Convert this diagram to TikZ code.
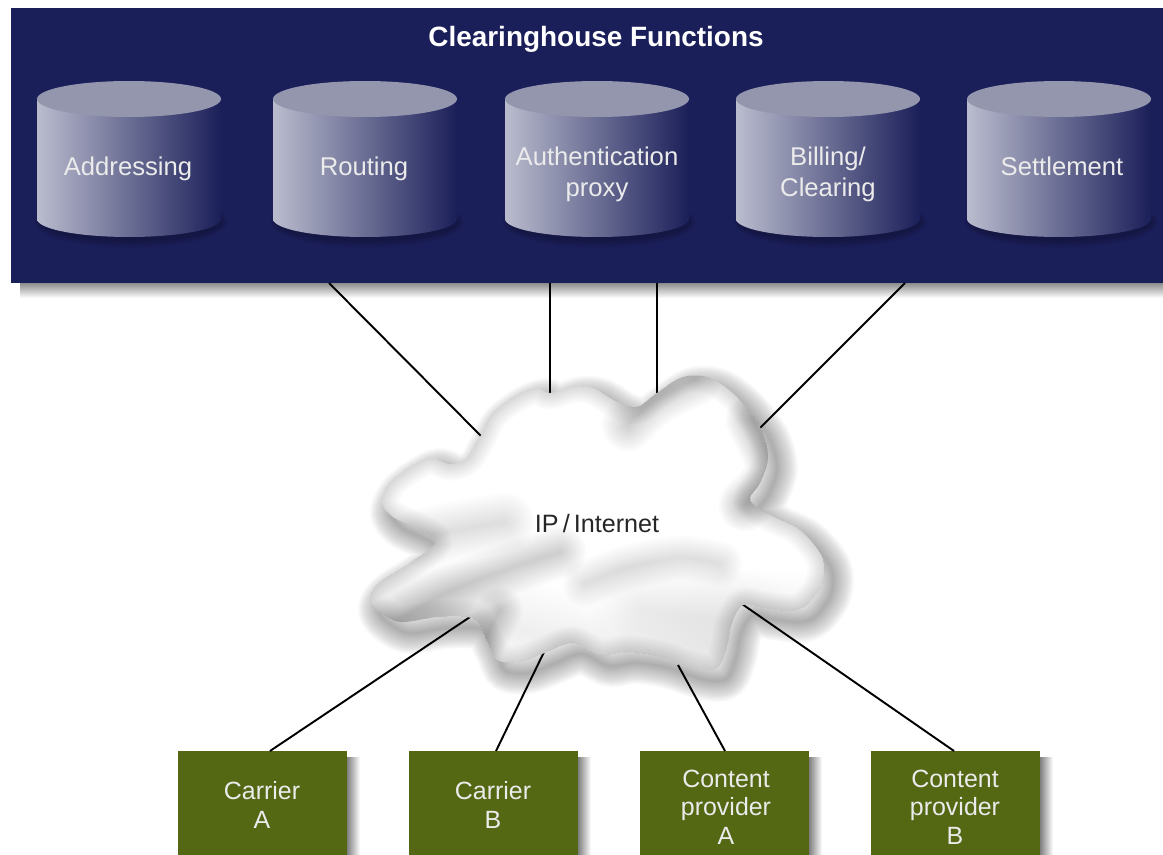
\documentclass[tikz,border=0pt]{standalone}
\usepackage{fontspec}
\setmainfont{Liberation Sans}
\definecolor{bandblue}{HTML}{1B1F59}
\definecolor{drumlight}{HTML}{BABCCE}
\definecolor{drummid}{HTML}{74769A}
\definecolor{drumtop}{HTML}{9496AE}
\definecolor{boxgreen}{HTML}{546713}
\newcommand{\cloudpath}{plot[smooth cycle,tension=0.55] coordinates {(550,393) (573,386) (593,388) (617,402) (637,407) (657,393) (683,377) (710,378) (737,397) (760,427) (768,457) (760,483) (750,500) (770,515) (800,530) (822,557) (822,583) (807,605) (790,611) (763,608) (743,605) (732,623) (727,647) (717,668) (693,668) (660,657) (627,652) (600,655) (573,643) (547,652) (520,662) (497,660) (488,643) (478,623) (467,617) (437,617) (400,622) (377,610) (370,597) (380,582) (410,563) (435,543) (420,530) (393,517) (382,502) (390,483) (410,467) (430,458) (450,464) (467,458) (480,437) (493,413) (517,395) (537,388)}}
\newcommand{\softline}[3][.014]{\foreach \i in {1,...,16}{\draw[black,opacity=#1,line width=\i/16*#2 pt,line cap=round] plot[smooth] coordinates {#3};}}
\tikzset{pics/drum/.style 2 args={code={
	\foreach \w in {1,3,...,13}{\fill[black,opacity=.035] (2,123) ellipse[x radius=90+\w*0.5,y radius=18+\w*0.6];}
	\path[left color=drumlight,middle color=drummid,right color=bandblue] (-92,0) -- (-92,120) arc[start angle=180,end angle=0,x radius=92,y radius=18] -- (92,0) -- cycle;
	\fill[drumtop] (0,0) ellipse[x radius=92,y radius=18];
	\node[drumtext] (-label) at (#2) {#1};
}}}
\begin{document}
\begin{tikzpicture}[x=0.02cm,y=-0.02cm,
		line/.style={black,line width=1.1pt},
		drumtext/.style={white!92!black,font=\fontsize{14.6}{17.5}\selectfont,align=center},
		boxtext/.style={white!92!black,font=\fontsize{14.2}{16.2}\selectfont,align=center},
		greenbox/.style={fill=boxgreen}]
		\useasboundingbox (0,0) rectangle (1163,855);
		
		% shadow and band
		\shade[top color=black!45,bottom color=white] (20,283) rectangle (1163,298);
		\fill[bandblue] (11,8) rectangle (1163,283);
		\node[white,font=\fontsize{15.9}{18}\bfseries] (title) at (596,39) {Clearinghouse Functions};
		\pic (addr) at (129,99) {drum={Addressing}{-1,70}};
		\pic (rout) at (365,99) {drum={Routing}{-1,70}};
		\pic (auth) at (597,99) {drum={Authentication\\proxy}{0,75}};
		\pic (bill) at (828,99) {drum={Billing/\\Clearing}{0,75}};
		\pic (sett) at (1059,99) {drum={Settlement}{3,67}};
		
		% connector ends
		\coordinate (b1) at (329,283);
		\coordinate (b2) at (550,283);
		\coordinate (b3) at (657,283);
		\coordinate (b4) at (905,283);
		\coordinate (c1) at (481,436);
		\coordinate (c2) at (550,393);
		\coordinate (c3) at (657,393);
		\coordinate (c4) at (760,428);
		\coordinate (c5) at (470,617);
		\coordinate (c6) at (545,650);
		\coordinate (c7) at (678,665);
		\coordinate (c8) at (742,604);
		\draw[line] (b1) -- (c1);
		\draw[line] (b2) -- (c2);
		\draw[line] (b3) -- (c3);
		\draw[line] (b4) -- (c4);
		
		% boxes
		\shade[left color=black!50,right color=white] (347,757) rectangle (360,855);
		\shade[left color=black!50,right color=white] (578,757) rectangle (591,855);
		\shade[left color=black!50,right color=white] (809,757) rectangle (822,855);
		\shade[left color=black!50,right color=white] (1040,757) rectangle (1053,855);
		\fill[greenbox] (178,751) rectangle (347,855);
		\fill[greenbox] (409,751) rectangle (578,855);
		\fill[greenbox] (640,751) rectangle (809,855);
		\fill[greenbox] (871,751) rectangle (1040,855);
		\node[boxtext] (cara) at (262,805) {Carrier\\A};
		\node[boxtext] (carb) at (493,805) {Carrier\\B};
		\node[boxtext] (cona) at (726,807) {Content\\provider\\A};
		\node[boxtext] (conb) at (955,807) {Content\\provider\\B};
		\coordinate (t1) at (270,751);
		\coordinate (t2) at (496,751);
		\coordinate (t3) at (725,751);
		\coordinate (t4) at (954,751);
		\draw[line] (c5) -- (t1);
		\draw[line] (c6) -- (t2);
		\draw[line] (c7) -- (t3);
		\draw[line] (c8) -- (t4);
		
		% cloud
		\begin{scope}[shift={(9,11)}]
		\foreach \w in {1,2,...,24}{\draw[black,opacity=.014,line width=\w pt] \cloudpath;}
		\end{scope}
		\fill[white] \cloudpath;
		\begin{scope}
		\clip \cloudpath;
		\foreach \w in {1,3,...,19}{\draw[black,opacity=.014,line width=\w pt] \cloudpath;}
		\softline{30}{(752,420) (772,470) (745,505)}
		\softline[.012]{30}{(628,425) (655,400) (695,380)}
		\softline[.007]{34}{(420,538) (470,528) (505,522)}
		\softline[.012]{30}{(365,640) (440,596) (500,572) (560,552)}
		\softline[.01]{26}{(500,610) (480,650)}
		\softline[.005]{80}{(590,690) (660,660) (735,640)}
		\softline[.005]{60}{(640,610) (720,620) (810,625)}
		\softline[.005]{60}{(400,600) (480,620) (560,640)}
		\softline[.009]{26}{(585,584) (625,568) (680,558) (720,564)}
		\end{scope}
		\node[black!85,font=\fontsize{14.3}{16}\selectfont] (net) at (597,524) {IP\,/\,Internet};
		\end{tikzpicture}
\end{document}
